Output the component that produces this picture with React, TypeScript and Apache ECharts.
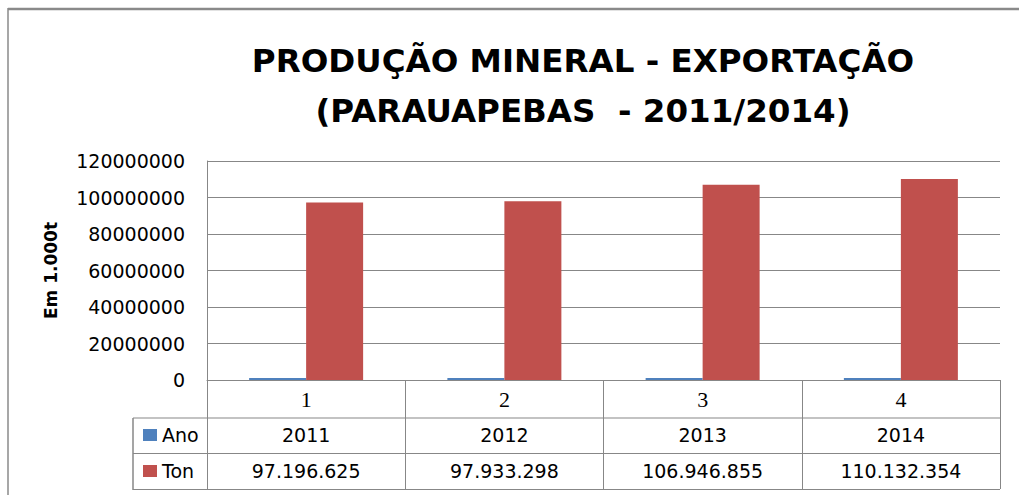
import React, { useEffect, useRef } from "react";
import * as echarts from "echarts";

const categories = ["1", "2", "3", "4"];
const anoValues = [2011, 2012, 2013, 2014];
const tonValues = [97196625, 97933298, 106946855, 110132354];
const seriesNames = ["Ano", "Ton"];
const titleLines = ["PRODUÇÃO MINERAL - EXPORTAÇÃO", "(PARAUAPEBAS  - 2011/2014)"];
const yAxisName = "Em 1.000t";

const fmt = (v: number) => String(v).replace(/\B(?=(\d{3})+(?!\d))/g, ".");

export default function App() {
  const ref = useRef<HTMLDivElement>(null);
  useEffect(() => {
    if (!ref.current) return;
    const chart = echarts.init(ref.current, undefined, { renderer: "svg" });
    const grey = "#878787";
    const sans = "DejaVu Sans";
    chart.setOption({
      animation: false,
      backgroundColor: "#ffffff",
      title: {
        text: titleLines.join("\n"),
        left: 578,
        top: 31,
        textAlign: "center",
        textStyle: {
          fontFamily: sans,
          fontWeight: "bold",
          fontSize: 32.5,
          lineHeight: 50,
          color: "#000",
        },
      },
      legend: {
        orient: "vertical",
        left: 143,
        top: 425,
        itemWidth: 14,
        itemHeight: 12,
        itemGap: 16,
        icon: "rect",
        padding: 0,
        textStyle: { fontFamily: sans, fontSize: 19, lineHeight: 20, color: "#000" },
        data: seriesNames,
      },
      grid: { left: 207, right: 19, top: 161, bottom: 115, containLabel: false },
      xAxis: [
        {
          type: "category",
          data: categories,
          position: "bottom",
          axisLine: { show: true, lineStyle: { color: grey, width: 1 } },
          axisTick: { show: true, length: 109, lineStyle: { color: grey, width: 1 } },
          axisLabel: {
            fontFamily: "Liberation Serif",
            fontSize: 22,
            color: "#000",
            margin: 19,
            verticalAlign: "middle",
          },
          splitLine: { show: false },
        },
        {
          type: "category",
          data: anoValues.map(String),
          position: "bottom",
          offset: 55,
          axisLine: { show: false },
          axisTick: { show: false },
          axisLabel: {
            fontFamily: sans,
            fontSize: 19,
            color: "#000",
            margin: 0,
            verticalAlign: "middle",
          },
        },
        {
          type: "category",
          data: tonValues.map(fmt),
          position: "bottom",
          offset: 91,
          axisLine: { show: false },
          axisTick: { show: false },
          axisLabel: {
            fontFamily: sans,
            fontSize: 19,
            color: "#000",
            margin: 0,
            verticalAlign: "middle",
          },
        },
      ],
      yAxis: {
        type: "value",
        min: 0,
        max: 120000000,
        interval: 20000000,
        name: yAxisName,
        nameLocation: "middle",
        nameRotate: 90,
        nameGap: 148,
        nameTextStyle: { fontFamily: sans, fontWeight: "bold", fontSize: 17, color: "#000" },
        axisLine: { show: true, lineStyle: { color: grey, width: 1 } },
        axisTick: { show: false },
        axisLabel: {
          fontFamily: sans,
          fontSize: 19,
          color: "#000",
          margin: 22,
          formatter: (v: number) => String(v),
        },
        splitLine: { show: true, lineStyle: { color: grey, width: 1 } },
      },
      series: [
        {
          name: seriesNames[0],
          type: "bar",
          data: anoValues,
          barWidth: 57,
          barGap: "0%",
          barMinHeight: 2,
          itemStyle: { color: "#4F81BD" },
        },
        {
          name: seriesNames[1],
          type: "bar",
          data: tonValues,
          barWidth: 57,
          barGap: "0%",
          itemStyle: { color: "#C0504D" },
        },
      ],
      graphic: [
        { type: "line", shape: { x1: 8, y1: 9, x2: 1019, y2: 9 }, style: { stroke: "#8a8a8a", lineWidth: 2.5 } },
        { type: "line", shape: { x1: 8, y1: 8, x2: 8, y2: 495 }, style: { stroke: "#8a8a8a", lineWidth: 1.5 } },
        { type: "line", shape: { x1: 133, y1: 418, x2: 1000, y2: 418 }, style: { stroke: grey, lineWidth: 1 } },
        { type: "line", shape: { x1: 133, y1: 453.5, x2: 1000, y2: 453.5 }, style: { stroke: grey, lineWidth: 1 } },
        { type: "line", shape: { x1: 133, y1: 489.5, x2: 1000, y2: 489.5 }, style: { stroke: grey, lineWidth: 1 } },
        { type: "line", shape: { x1: 133, y1: 418, x2: 133, y2: 490 }, style: { stroke: grey, lineWidth: 1.5 } },
      ],
    });
    return () => chart.dispose();
  }, []);
  return (
    <div
      ref={ref}
      style={{ position: "fixed", left: 0, top: 0, width: 1019, height: 495, background: "#fff" }}
    />
  );
}
